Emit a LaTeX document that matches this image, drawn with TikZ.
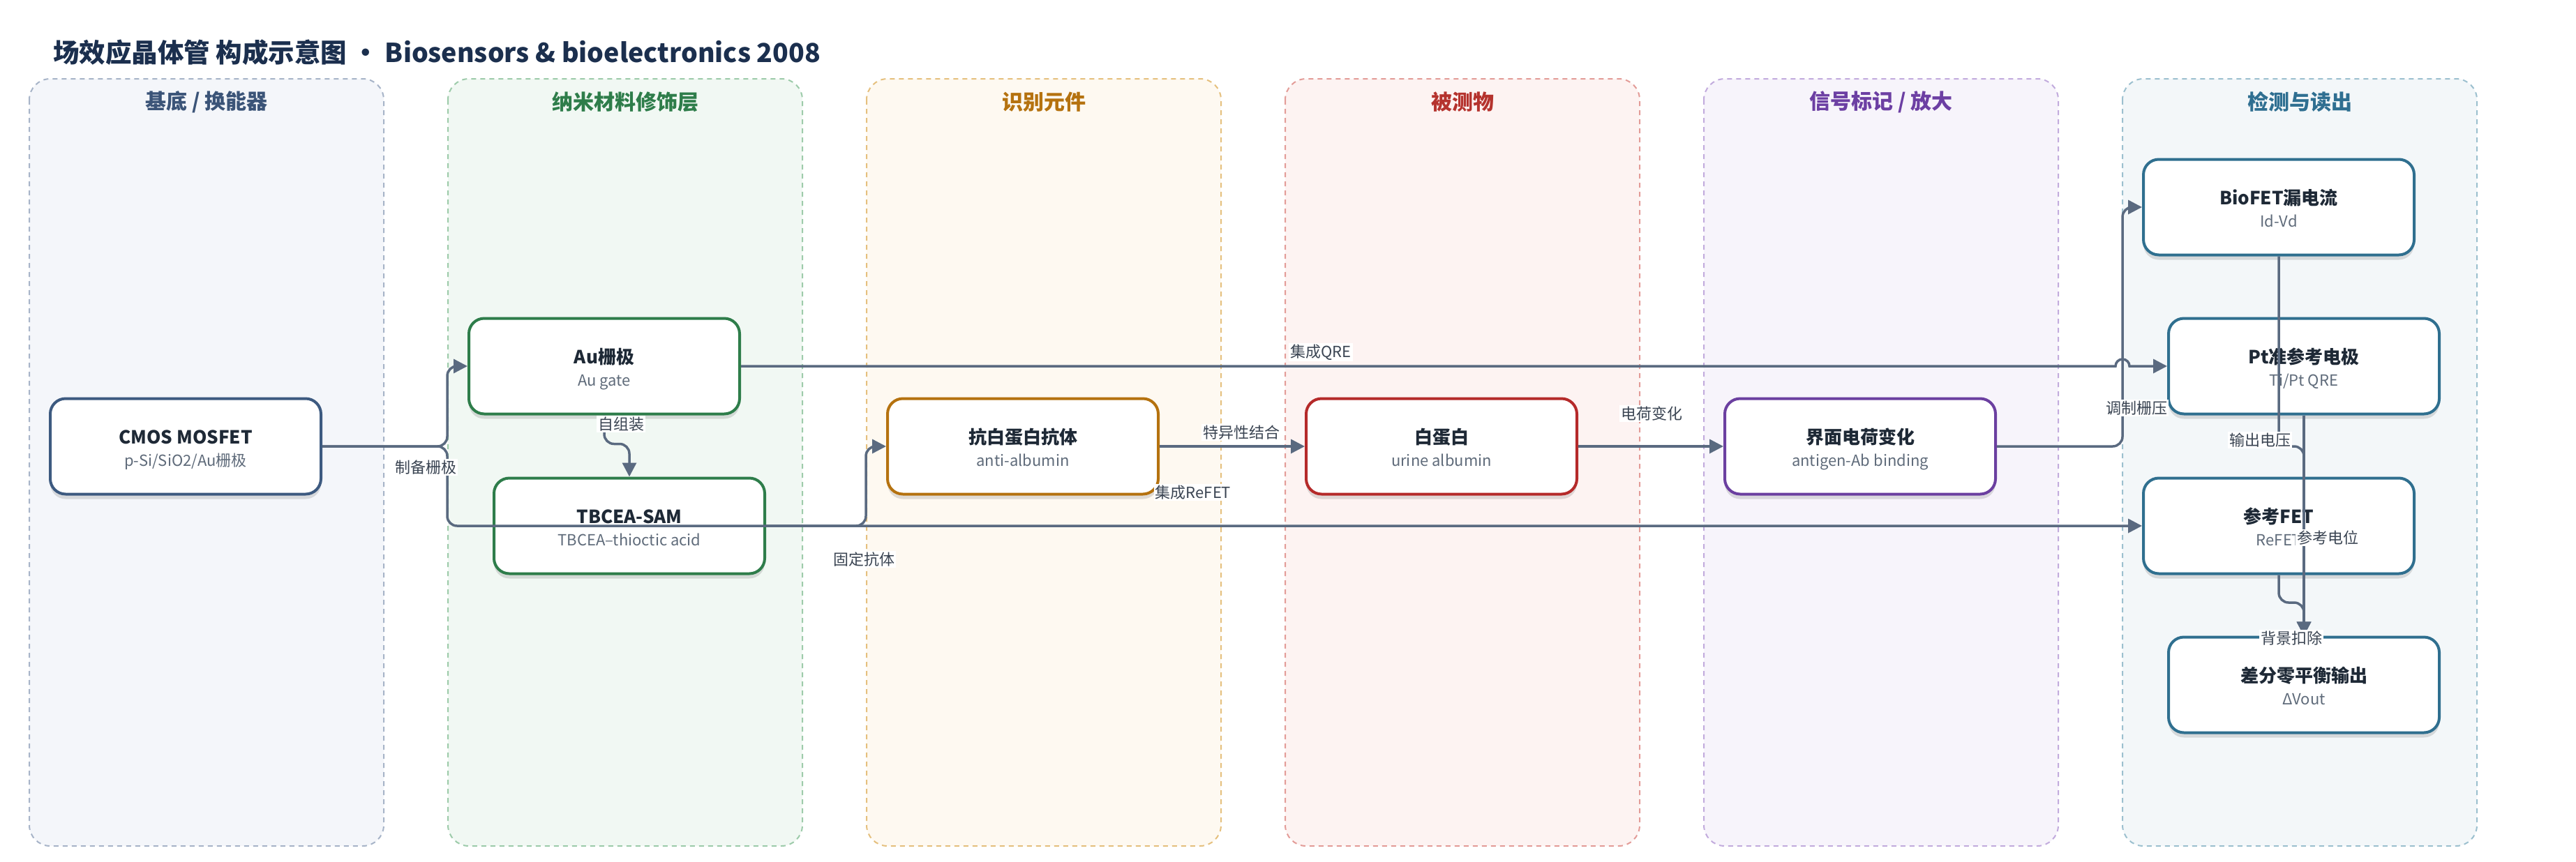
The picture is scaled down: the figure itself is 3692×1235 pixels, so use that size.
\documentclass[tikz,border=0pt]{standalone}
\usepackage{fontspec}
\setmainfont{Noto Sans CJK SC}
\usetikzlibrary{arrows.meta,shadows,calc}
\definecolor{cEdge}{HTML}{5A6A80}
\definecolor{cLbl}{HTML}{3A4452}
\definecolor{cTtl}{HTML}{1E2936}
\definecolor{cSub}{HTML}{5F6B7A}
\definecolor{cHead}{HTML}{1B2F4E}
\definecolor{lfA}{HTML}{F4F6FA}\definecolor{lbA}{HTML}{A7B4C8}\definecolor{lhA}{HTML}{3B5478}
\definecolor{lfB}{HTML}{F1F8F3}\definecolor{lbB}{HTML}{9DCBAA}\definecolor{lhB}{HTML}{2E7D4A}
\definecolor{lfC}{HTML}{FEF9F1}\definecolor{lbC}{HTML}{E5C07E}\definecolor{lhC}{HTML}{B5720F}
\definecolor{lfD}{HTML}{FDF3F2}\definecolor{lbD}{HTML}{E39C98}\definecolor{lhD}{HTML}{B5332E}
\definecolor{lfE}{HTML}{F7F4FB}\definecolor{lbE}{HTML}{C2ABDD}\definecolor{lhE}{HTML}{6C3FA3}
\definecolor{lfF}{HTML}{F3F7F9}\definecolor{lbF}{HTML}{9CC0CF}\definecolor{lhF}{HTML}{2F6F91}
\definecolor{nA}{HTML}{3D5A80}
\definecolor{nB}{HTML}{2E7D4A}
\definecolor{nC}{HTML}{B5720F}
\definecolor{nD}{HTML}{B52A2A}
\definecolor{nE}{HTML}{6B3FA0}
\definecolor{nF}{HTML}{2F6F8F}
\tikzset{
  lane/.style={rounded corners=30pt, dash pattern=on 7pt off 6pt, line width=2pt},
  lanehdr/.style={font=\fontsize{30}{34}\selectfont\bfseries, inner sep=0pt},
  box/.style={draw, line width=4pt, rounded corners=22pt, fill=white,
    minimum width=388pt, minimum height=137pt, inner sep=0pt,
    drop shadow={shadow xshift=0pt, shadow yshift=-7pt, opacity=0.12, fill=black}},
  ttl/.style={anchor=base, inner sep=0pt, text=cTtl, font=\fontsize{26}{30}\selectfont\bfseries},
  sub/.style={anchor=base, inner sep=0pt, text=cSub, font=\fontsize{22}{26}\selectfont},
  edge/.style={draw=cEdge, line width=3.5pt, rounded corners=14pt, -{Triangle[length=20pt,width=20pt]}},
  lbl/.style={fill=white, inner sep=2pt, text=cLbl, font=\fontsize{22}{24}\selectfont},
}
\begin{document}
\begin{tikzpicture}[x=1pt,y=-1pt]
\useasboundingbox (0,0) rectangle (3692,1235);
\fill[white] (0,0) rectangle (3692,1235);
% title
\node[anchor=base west, inner sep=0pt, text=cHead, font=\fontsize{37.5}{42}\selectfont\bfseries] (title) at (76,89)
  {场效应晶体管 构成示意图 • Biosensors \& bioelectronics 2008};
% lanes
\draw[lane, draw=lbA, fill=lfA] (42,113) rectangle (550,1213);
\draw[lane, draw=lbB, fill=lfB] (642,113) rectangle (1150,1213);
\draw[lane, draw=lbC, fill=lfC] (1242,113) rectangle (1750,1213);
\draw[lane, draw=lbD, fill=lfD] (1842,113) rectangle (2350,1213);
\draw[lane, draw=lbE, fill=lfE] (2442,113) rectangle (2950,1213);
\draw[lane, draw=lbF, fill=lfF] (3042,113) rectangle (3550,1213);
\node[lanehdr, text=lhA] (h1) at (296,146) {基底 / 换能器};
\node[lanehdr, text=lhB] (h2) at (896,146) {纳米材料修饰层};
\node[lanehdr, text=lhC] (h3) at (1496,146) {识别元件};
\node[lanehdr, text=lhD] (h4) at (2096,146) {被测物};
\node[lanehdr, text=lhE] (h5) at (2696,146) {信号标记 / 放大};
\node[lanehdr, text=lhF] (h6) at (3296,146) {检测与读出};
% nodes
\node[box, draw=nA] (cmos) at (266,640) {};
\node[box, draw=nB] (au) at (866,525) {};
\node[box, draw=nB] (sam) at (902,754) {};
\node[box, draw=nC] (ab) at (1466,640) {};
\node[box, draw=nD] (alb) at (2066,640) {};
\node[box, draw=nE] (iface) at (2666,640) {};
\node[box, draw=nF] (biofet) at (3266,297) {};
\node[box, draw=nF] (pt) at (3302,525) {};
\node[box, draw=nF] (reffet) at (3266,754) {};
\node[box, draw=nF] (diff) at (3302,982) {};
% node texts
\foreach \n/\t/\s in {cmos/CMOS MOSFET/p-Si\slash SiO2\slash Au栅极, au/Au栅极/Au gate, sam/TBCEA-SAM/TBCEA–thioctic acid,
  ab/抗白蛋白抗体/anti-albumin, alb/白蛋白/urine albumin, iface/界面电荷变化/antigen-Ab binding,
  biofet/BioFET漏电流/Id-Vd, pt/Pt准参考电极/Ti\slash Pt QRE, reffet/参考FET/ReFET, diff/差分零平衡输出/ΔVout}{
  \node[ttl] (\n-t) at ([yshift=4pt]\n.center) {\t};
  \node[sub] (\n-s) at ([yshift=-28pt]\n.center) {\s};
}
% edges
\coordinate (j1) at (641,640);
\draw[edge] (cmos.east) -- (j1) |- (au.west);
\draw[edge] (cmos.east) -- (j1) |- (reffet.west);
\draw[edge] (au.south) -- ++(0,41) -| (sam.north);
\coordinate (j2) at (1241,754);
\draw[edge] (sam.east) -- (j2) |- (ab.west);
\draw[edge] (ab.east) -- (alb.west);
\draw[edge] (alb.east) -- (iface.west);
\coordinate (j3) at (3042,640);
\draw[edge] (iface.east) -- (j3) |- (biofet.west);
\coordinate (hopL) at (3032,525);
\draw[edge, sharp corners] (au.east) -- (hopL) arc[start angle=180, end angle=0, radius=10pt] -- (pt.west);
\coordinate (j4) at (3266,640);
\coordinate (j5) at (3302,640);
\draw[edge] (biofet.south) -- (j4) -- (j5) -- (diff.north);
\draw[edge] (pt.south) -- (diff.north);
\coordinate (j6) at (3266,864);
\coordinate (j7) at (3302,864);
\draw[edge] (reffet.south) -- (j6) -- (j7) -- (diff.north);
% edge labels
\node[lbl] (l1) at (610,670) {制备栅极};
\node[lbl] (l2) at (1710,706) {集成ReFET};
\node[lbl] (l3) at (890,608) {自组装};
\node[lbl] (l4) at (1238,802) {固定抗体};
\node[lbl] (l5) at (1779,620) {特异性结合};
\node[lbl] (l6) at (2367,593) {电荷变化};
\node[lbl] (l7) at (3062,585) {调制栅压};
\node[lbl] (l8) at (1893,505) {集成QRE};
\node[lbl] (l9) at (3239,631) {输出电压};
\node[lbl] (l10) at (3336,771) {参考电位};
\node[lbl] (l11) at (3284,915) {背景扣除};
\end{tikzpicture}
\end{document}
